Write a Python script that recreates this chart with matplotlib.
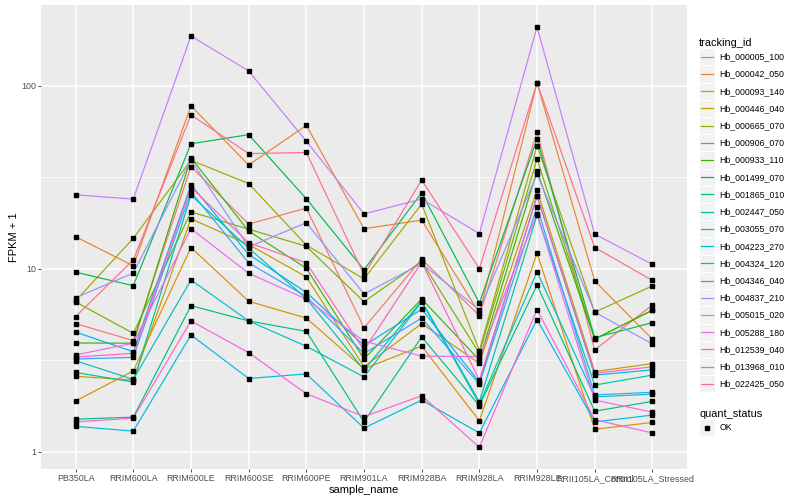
import numpy as np
import matplotlib
matplotlib.use("Agg")
from matplotlib import pyplot as plt
from matplotlib.legend_handler import HandlerBase
from matplotlib.patches import Rectangle
from matplotlib.lines import Line2D

plt.rcParams['font.family'] = ['Liberation Sans', 'DejaVu Sans']

# samples on x axis
samples = ['PB350LA', 'RRIM600LA', 'RRIM600LE', 'RRIM600SE', 'RRIM600PE', 'RRIM901LA',
           'RRIM928BA', 'RRIM928LA', 'RRIM928LE', 'RRII105LA_Control', 'RRII105LA_Stressed']

tracking_ids = ['Hb_000005_100', 'Hb_000042_050', 'Hb_000093_140', 'Hb_000446_040', 'Hb_000665_070',
                'Hb_000906_070', 'Hb_000933_110', 'Hb_001499_070', 'Hb_001865_010', 'Hb_002447_050',
                'Hb_003055_070', 'Hb_004223_270', 'Hb_004324_120', 'Hb_004346_040', 'Hb_004837_210',
                'Hb_005015_020', 'Hb_005288_180', 'Hb_012539_040', 'Hb_013968_010', 'Hb_022425_050']

# ggplot hue palette, 20 levels
colors = ['#F8766D', '#EA8331', '#D89000', '#C09B00', '#A3A500', '#7CAE00', '#39B600', '#00BB4E',
          '#00BF7D', '#00C1A3', '#00BFC4', '#00BAE0', '#00B0F6', '#35A2FF', '#9590FF', '#C77CFF',
          '#E76BF3', '#FA62DB', '#FF62BC', '#FF6C91']

# FPKM + 1 per gene (rows) and sample (columns)
fpkm = [
    [5.03, 4.06, 36.3, 17.6, 21.5, 4.77, 11.3, 5.56, 55.9, 3.61, 6.36],
    [15.0, 10.4, 77.8, 37.0, 60.9, 16.6, 18.5, 5.73, 104, 8.6, 4.13],
    [1.90, 2.77, 13.1, 6.66, 5.39, 2.85, 3.79, 1.48, 12.2, 1.33, 1.45],
    [2.59, 2.47, 18.8, 13.6, 9.05, 2.92, 5.03, 3.05, 27.0, 2.75, 3.04],
    [6.7, 14.7, 39.3, 29.3, 13.5, 8.83, 22.6, 3.58, 47.1, 5.81, 8.08],
    [6.6, 4.45, 20.5, 16.5, 13.3, 6.62, 11.0, 3.46, 39.9, 4.14, 5.95],
    [3.94, 3.93, 40.5, 16.1, 10.1, 3.22, 6.85, 3.18, 34.4, 4.14, 5.95],
    [9.6, 8.1, 48.3, 54.2, 24.2, 9.9, 26.1, 6.52, 51.2, 4.21, 5.09],
    [1.51, 1.55, 6.3, 5.2, 4.56, 1.46, 4.25, 1.79, 8.17, 1.67, 1.89],
    [2.72, 2.41, 25.3, 13.0, 6.9, 2.81, 6.68, 1.88, 19.7, 2.32, 2.63],
    [3.15, 2.49, 8.7, 5.2, 3.78, 2.57, 6.6, 1.83, 9.64, 2.0, 2.07],
    [1.38, 1.30, 4.36, 2.52, 2.67, 1.35, 1.92, 1.27, 5.29, 1.46, 1.59],
    [4.52, 3.53, 28.8, 12.0, 7.45, 3.81, 6.03, 2.41, 25.1, 2.63, 2.81],
    [3.22, 3.29, 26.4, 10.8, 7.06, 3.45, 5.39, 2.35, 21.8, 2.05, 2.12],
    [6.96, 9.5, 39.3, 13.2, 17.9, 7.3, 10.7, 5.98, 33.0, 5.81, 3.89],
    [25.4, 24.1, 187.6, 120.8, 49.9, 20.0, 24.1, 15.6, 210, 15.5, 10.6],
    [3.39, 3.93, 16.6, 9.48, 6.84, 4.03, 3.34, 3.32, 20.0, 1.92, 1.65],
    [1.46, 1.53, 5.2, 3.49, 2.08, 1.56, 2.03, 1.06, 6.0, 1.50, 1.27],
    [3.3, 3.46, 28.0, 13.9, 10.8, 3.6, 10.9, 2.47, 24.9, 2.69, 2.92],
    [5.49, 11.2, 69.5, 42.7, 43.3, 9.3, 30.6, 10.05, 104, 13.1, 8.66],
]

quant_status = ['OK']


# legend key like ggplot: grey box with the line in it
class KeyHandler(HandlerBase):
    def create_artists(self, legend, orig_handle, xdescent, ydescent, width, height, fontsize, trans):
        box = Rectangle((-xdescent, -ydescent), width, height, facecolor='#F2F2F2',
                        edgecolor='white', lw=0.8, transform=trans)
        y = -ydescent + height / 2
        if orig_handle.get_marker() not in (None, 'None', ''):
            mk = Line2D([-xdescent + width / 2], [y], marker='s', ms=2.4, color='black',
                        linestyle='None', transform=trans)
            return [box, mk]
        ln = Line2D([-xdescent + 1.5, -xdescent + width - 1.5], [y, y],
                    color=orig_handle.get_color(), lw=0.9, transform=trans)
        return [box, ln]


fig = plt.figure(figsize=(8, 5), dpi=100)
ax = fig.add_axes([41 / 800, 31 / 500, 646 / 800, 464 / 500])
ax.set_facecolor('#EBEBEB')

x = np.arange(len(samples))
handles = []
for gene, vals, col in zip(tracking_ids, fpkm, colors):
    h, = ax.plot(x, vals, color=col, lw=0.85, zorder=2)
    handles.append(h)
for vals in fpkm:
    ax.plot(x, vals, linestyle='None', marker='s', ms=2.4, color='black', zorder=3)

ax.set_yscale('log')
ax.set_ylim(0.807, 277)
ax.set_xlim(-0.6, len(samples) - 0.4)
ax.set_xticks(x)
ax.set_xticklabels(samples)
ax.set_yticks([1, 10, 100])
ax.set_yticklabels(['1', '10', '100'])
ax.set_yticks([10 ** 0.5, 10 ** 1.5], minor=True)
ax.yaxis.set_minor_formatter(matplotlib.ticker.NullFormatter())

ax.grid(which='major', color='white', lw=1.1)
ax.grid(which='minor', axis='y', color='white', lw=0.5)
ax.set_axisbelow(True)
for s in ax.spines.values():
    s.set_visible(False)
ax.tick_params(which='major', length=2.2, width=0.6, color='#333333', labelsize=6.4,
               labelcolor='#4D4D4D', pad=1.5)
ax.tick_params(which='minor', length=0)

ax.set_xlabel('sample_name', fontsize=8, labelpad=1.5)
ax.set_ylabel('FPKM + 1', fontsize=8, labelpad=1.5)

leg1 = fig.legend(handles, tracking_ids, loc='upper left', bbox_to_anchor=(693 / 800, 1 - 32 / 500),
                  title='tracking_id', handler_map={Line2D: KeyHandler()}, frameon=False,
                  fontsize=6.3, title_fontsize=7.9, handlelength=1.85, handleheight=2.65,
                  labelspacing=0.0, handletextpad=0.5, borderpad=0.2, alignment='left')

ok_handle = Line2D([], [], marker='s', color='black', linestyle='None')
leg2 = fig.legend([ok_handle], quant_status, loc='upper left', bbox_to_anchor=(693 / 800, 1 - 403 / 500),
                  title='quant_status', handler_map={Line2D: KeyHandler()}, frameon=False,
                  fontsize=6.3, title_fontsize=7.9, handlelength=1.85, handleheight=2.65,
                  labelspacing=0.0, handletextpad=0.5, borderpad=0.2, alignment='left')

fig.savefig('out.png', dpi=100, facecolor='white')
